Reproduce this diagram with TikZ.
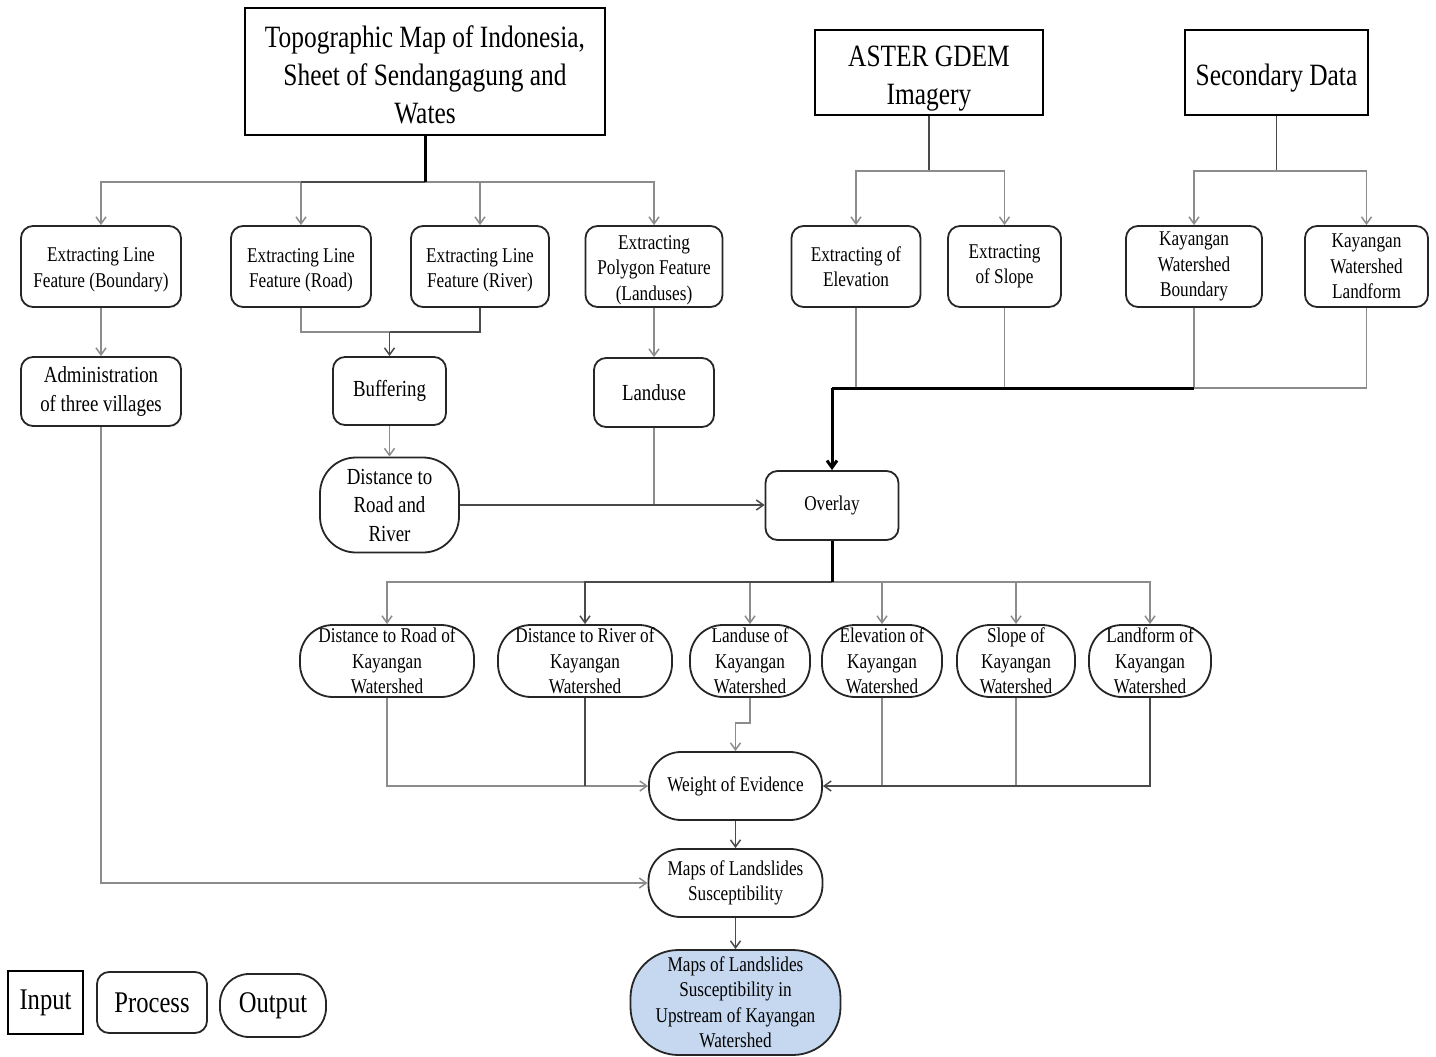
\documentclass[tikz,border=0pt]{standalone}
\usepackage{fontspec}
\setmainfont{Liberation Serif}[FakeStretch=0.82]
\usetikzlibrary{arrows.meta}
\definecolor{lgray}{HTML}{8C8C8C}
\definecolor{dgray}{HTML}{4A4A4A}
\definecolor{fillblue}{HTML}{C6D8EF}
\newcommand{\fsTitle}{\fontsize{31}{38}\selectfont}
\newcommand{\fsRow}{\fontsize{21}{25.5}\selectfont}
\newcommand{\fsMid}{\fontsize{23}{28.5}\selectfont}
\newcommand{\fsLeg}{\fontsize{30}{34}\selectfont}
\begin{document}
\begin{tikzpicture}[x=1pt,y=-1pt,
  inbox/.style={draw=black, line width=1.6pt, inner sep=0pt, align=center, font=\fsTitle},
  procbox/.style={draw=black!85, line width=1.8pt, rounded corners=12pt, inner sep=0pt, align=center, font=\fsRow},
  outbox/.style={draw=black!85, line width=1.8pt, inner sep=0pt, align=center, font=\fsRow},
  conn/.style={draw=lgray, line width=1.5pt},
  connd/.style={draw=dgray, line width=1.5pt},
  thk/.style={draw=black, line width=3pt},
  toarr/.style={-{Straight Barb[length=7pt,width=10pt]}}
]
\useasboundingbox (0,0) rectangle (1436,1057);

% inputs
\node[inbox, minimum width=360, minimum height=127] (topo) at (425,71.5) {\rule{0pt}{28pt}Topographic Map of Indonesia,\\Sheet of Sendangagung and\\Wates};
\node[inbox, minimum width=228, minimum height=85] (aster) at (929,72.5) {\rule{0pt}{32pt}ASTER GDEM\\Imagery};
\node[inbox, minimum width=183, minimum height=85] (sec) at (1276.5,72.5) {\rule{0pt}{33pt}Secondary Data};

% row 1
\node[procbox, minimum width=160, minimum height=81] (b1) at (101,266.5) {\rule{0pt}{21pt}Extracting Line\\Feature (Boundary)};
\node[procbox, minimum width=140, minimum height=81] (b2) at (301,266.5) {\rule{0pt}{21pt}Extracting Line\\Feature (Road)};
\node[procbox, minimum width=138, minimum height=81] (b3) at (480,266.5) {\rule{0pt}{21pt}Extracting Line\\Feature (River)};
\node[procbox, minimum width=137, minimum height=81] (b4) at (654,266.5) {\rule{0pt}{21pt}Extracting\\Polygon Feature\\(Landuses)};
\node[procbox, minimum width=129, minimum height=81] (b5) at (856,266.5) {Extracting of\\Elevation};
\node[procbox, minimum width=113, minimum height=81] (b6) at (1004.5,266.5) {Extracting\\of Slope};
\node[procbox, minimum width=136, minimum height=81] (b7) at (1194,266.5) {Kayangan\\Watershed\\Boundary};
\node[procbox, minimum width=123, minimum height=81] (b8) at (1366.5,266.5) {Kayangan\\Watershed\\Landform};

% row 2
\node[procbox, font=\fsMid, minimum width=160, minimum height=69] (admin) at (101,391.5) {Administration\\of three villages};
\node[procbox, font=\fsMid, minimum width=113, minimum height=68] (buf) at (389.5,391) {Buffering};
\node[procbox, font=\fsMid, minimum width=120, minimum height=69] (landuse) at (654,392.5) {Landuse};
\node[outbox, font=\fsMid, rounded corners=36pt, minimum width=139, minimum height=95] (dist) at (389.5,505) {Distance to\\Road and\\River};
\node[procbox, minimum width=133, minimum height=69] (ovl) at (832,505.5) {Overlay};

% row 3
\node[outbox, rounded corners=33pt, minimum width=174, minimum height=72] (o1) at (387,661) {Distance to Road of\\Kayangan\\Watershed};
\node[outbox, rounded corners=33pt, minimum width=174, minimum height=72] (o2) at (585,661) {Distance to River of\\Kayangan\\Watershed};
\node[outbox, rounded corners=33pt, minimum width=120, minimum height=72] (o3) at (750,661) {Landuse of\\Kayangan\\Watershed};
\node[outbox, rounded corners=33pt, minimum width=120, minimum height=72] (o4) at (882,661) {Elevation of\\Kayangan\\Watershed};
\node[outbox, rounded corners=33pt, minimum width=118, minimum height=72] (o5) at (1016,661) {Slope of\\Kayangan\\Watershed};
\node[outbox, rounded corners=33pt, minimum width=122, minimum height=72] (o6) at (1150,661) {Landform of\\Kayangan\\Watershed};

% bottom chain
\node[outbox, rounded corners=32pt, minimum width=173, minimum height=68] (woe) at (735.5,786) {Weight of Evidence};
\node[outbox, rounded corners=32pt, minimum width=174, minimum height=68] (maps) at (735.5,883) {Maps of Landslides\\Susceptibility};
\node[outbox, fill=fillblue, rounded corners=48pt, minimum width=210, minimum height=105] (final) at (735.5,1002.5) {Maps of Landslides\\Susceptibility in\\Upstream of Kayangan\\Watershed};

% legend
\node[inbox, font=\fsLeg, minimum width=75, minimum height=63] (lin) at (45.5,1002.5) {Input};
\node[procbox, font=\fsLeg, minimum width=110, minimum height=61] (lproc) at (152,1002.5) {Process};
\node[outbox, font=\fsLeg, rounded corners=29pt, minimum width=106, minimum height=63] (lout) at (273,1005.5) {Output};

% connectors: topo
\coordinate (tj) at (425,182);
\draw[conn,toarr] (tj) -| (b1);
\draw[conn,toarr] (tj) -| (b4);
\draw[conn,toarr] (tj) -| (b2);
\draw[conn,toarr] (tj) -| (b3);
\draw[connd] (tj) -- (b2.north |- tj);
\draw[thk] (topo.south) -- (tj);

% aster
\coordinate (aj) at (929,171);
\draw[connd] (aster.south) -- (aj);
\draw[conn,toarr] (aj) -| (b5);
\draw[conn,toarr] (aj) -| (b6);
% secondary
\coordinate (sj) at (1276.5,171);
\draw[connd] (sec.south) -- (sj);
\draw[conn,toarr] (sj) -| (b7);
\draw[conn,toarr] (sj) -| (b8);

% row1 -> row2
\draw[conn,toarr] (b1) -- (admin);
\coordinate (bj) at (389.5,332);
\draw[conn] (b2.south) |- (bj);
\draw[connd] (b3.south) |- (bj);
\draw[connd,toarr] (bj) -- (buf);
\draw[conn,toarr] (b4) -- (landuse);
\draw[conn,toarr] (buf) -- (dist);
\draw[conn] (landuse.south) -- (landuse.south |- dist.east);
\draw[connd,toarr] (dist.east) -- (dist.east -| ovl.west);

% elevation etc. -> overlay
\coordinate (oj) at (832,388);
\coordinate (kj) at (1194,388);
\draw[conn] (b5.south) -- (b5.south |- oj);
\draw[conn] (b6.south) -- (b6.south |- oj);
\draw[conn] (b7.south) -- (kj);
\draw[conn] (b8.south) |- (kj);
\draw[thk] (kj) -- (oj);
\draw[thk,toarr] (oj) -- (ovl);

% overlay -> row 3
\coordinate (ob) at (832,582);
\draw[conn,toarr] (ob) -| (o1);
\draw[conn,toarr] (ob) -| (o3);
\draw[conn,toarr] (ob) -| (o4);
\draw[conn,toarr] (ob) -| (o5);
\draw[conn,toarr] (ob) -| (o6);
\draw[connd,toarr] (ob) -| (o2);
\draw[thk] (ovl) -- (ob);

% row 3 -> weight of evidence
\draw[conn,toarr] (o1.south) |- (woe.west);
\draw[connd] (o2.south) -- (o2.south |- woe.west);
\draw[conn,toarr] (o3.south) -- ++(0,25) -| (woe.north);
\draw[conn] (o4.south) -- (o4.south |- woe.east);
\draw[conn] (o5.south) -- (o5.south |- woe.east);
\draw[connd,toarr] (o6.south) |- (woe.east);

% bottom chain
\draw[connd,toarr] (woe) -- (maps);
\draw[conn,toarr] (admin.south) |- (maps.west);
\draw[connd,toarr] (maps) -- (final);
\end{tikzpicture}
\end{document}
